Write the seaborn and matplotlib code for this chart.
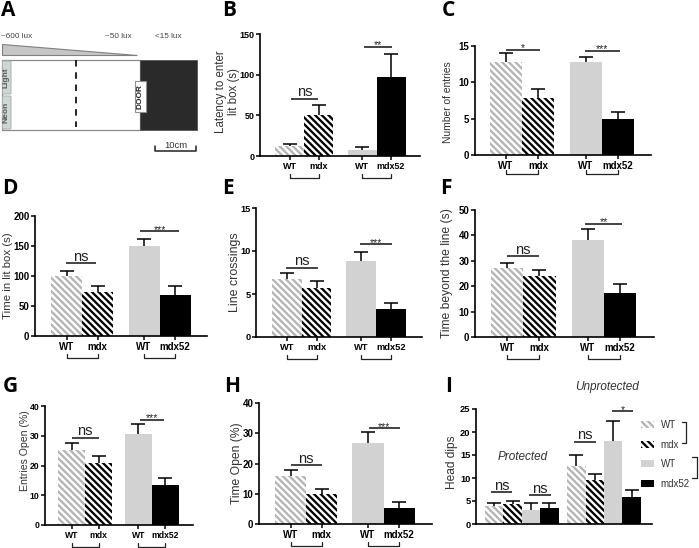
import numpy as np
import pandas as pd
import matplotlib
matplotlib.use("Agg")
import matplotlib.pyplot as plt
import seaborn as sns
from matplotlib.patches import Rectangle, Polygon, FancyBboxPatch, Patch

# ---------- data ----------
groups = ["WT", "mdx", "WT ", "mdx52"]
tick_labels = ["WT", "mdx", "WT", "mdx52"]

b_values = [12, 50, 7.5, 97]
b_errors = [3, 13, 3, 29]
c_values = [12.8, 7.9, 12.8, 4.9]
c_errors = [1.2, 1.2, 0.7, 0.95]
d_values = [100, 73, 150, 69]
d_errors = [8, 10, 11, 14]
e_values = [6.78, 5.7, 8.88, 3.3]
e_errors = [0.62, 0.77, 0.96, 0.65]
f_values = [27, 24, 38.2, 17.5]
f_errors = [2, 2.2, 4.3, 3.5]
g_values = [25.3, 21, 30.5, 13.3]
g_errors = [2.4, 2.2, 3.3, 2.5]
h_values = [16, 10, 26.8, 5.3]
h_errors = [2, 1.5, 3.5, 2]
i_groups = ["WT", "mdx", "WT ", "mdx52", "WT", "mdx", "WT ", "mdx52"]
i_values = [3.9, 4.4, 3.1, 3.5, 12.6, 9.5, 18, 5.8]
i_errors = [0.7, 0.7, 1.4, 1.0, 2.5, 1.4, 4.4, 1.7]

W, H = 699, 548
sns.set_theme(style="ticks")
plt.rcParams["font.family"] = ["Liberation Sans", "DejaVu Sans"]
plt.rcParams["hatch.linewidth"] = 1.65
HATCH = "\\" * 5
TXT = "#333333"

palette = {"WT": "white", "mdx": "white", "WT ": "#d2d2d2", "mdx52": "black"}
hatch_color = {"WT": "#b4b4b4", "mdx": "black"}

fig = plt.figure(figsize=(W / 100, H / 100), dpi=100, facecolor="white")


def fx(px):
    return px / W


def fy(py):
    return 1 - py / H


def bar_panel(rect, bar_left, bar_w, gap, ymax, yticks, values, errors, bar_groups, ylabel,
              ylab_xy, ylab_size, tick_size, sig, xlabels=True, br=(18, 22), sep_after=2):
    l, t, r, b = rect
    ax = fig.add_axes([fx(l), fy(b), (r - l) / W, (b - t) / H])
    n = len(values)
    pos = np.array([i + (gap if i >= sep_after else 0) for i in range(n)], dtype=float)
    df = pd.DataFrame({"pos": pos, "value": values, "group": bar_groups})
    sns.barplot(data=df, x="pos", y="value", hue="group", hue_order=groups, palette=palette,
                dodge=False, native_scale=True, width=1.0, saturation=1, linewidth=0,
                errorbar=None, legend=False, ax=ax)
    for cont, g in zip(ax.containers, groups):
        if g in hatch_color:
            for p in cont:
                p.set_hatch(HATCH)
                p.set_edgecolor(hatch_color[g])
                p.set_linewidth(0)
    tops = np.asarray(values) + np.asarray(errors)
    ax.errorbar(pos, values, yerr=[np.zeros(n), errors], fmt="none", ecolor="black",
                elinewidth=1.1, capsize=0, zorder=5)
    ax.plot(pos, tops, ls="none", marker="_", ms=9.6, mew=1.1, color="black", clip_on=False, zorder=5)
    x0 = -0.5 - (bar_left - l) / bar_w
    ax.set_xlim(x0, x0 + (r - l) / bar_w)
    ax.set_ylim(0, ymax)
    ax.set_yticks(yticks)
    ax.set_xlabel("")
    ax.set_ylabel(ylabel, fontsize=ylab_size, color=TXT, va="center", linespacing=1.05)
    ax.yaxis.set_label_coords(fx(ylab_xy[0]), fy(ylab_xy[1]), transform=fig.transFigure)
    for s in ("top", "right"):
        ax.spines[s].set_visible(False)
    for s in ("left", "bottom"):
        ax.spines[s].set_linewidth(1.2)
        ax.spines[s].set_color("black")
    ax.tick_params(axis="y", length=3, width=1.1, pad=1, color="black")
    for lab in ax.get_yticklabels():
        lab.set_fontweight("bold")
        lab.set_fontsize(tick_size)
        lab.set_color("black")
    if xlabels:
        ax.set_xticks(pos)
        ax.set_xticklabels(tick_labels, fontweight="bold", fontsize=tick_size, color="black")
        ax.tick_params(axis="x", length=3, width=1.1, pad=1.5, color="black")
        tr = ax.get_xaxis_transform()
        h = b - t
        for a, c in ((pos[0], pos[1]), (pos[2], pos[3])):
            ax.plot([a, a, c, c], [-br[0] / h, -br[1] / h, -br[1] / h, -br[0] / h], transform=tr,
                    clip_on=False, color="#222222", lw=0.9)
    else:
        ax.set_xticks([])
    # significance bars, given in bar units
    for label, a, c, y in sig:
        ax.plot([a, c], [y, y], color="#111111", lw=1.1, clip_on=False, solid_capstyle="butt")
        if label == "ns":
            ax.annotate(label, ((a + c) / 2, y), xytext=(0, -0.5), textcoords="offset points", ha="center",
                        va="bottom", fontsize=10.5, color="#222222")
        else:
            ax.annotate(label, ((a + c) / 2, y), xytext=(0, -2.5), textcoords="offset points", ha="center",
                        va="bottom", fontsize=7.5, color="#222222")
    return ax


bar_panel((260, 34, 420, 156), 275, 29, 0.5, 150, [0, 50, 100, 150], b_values, b_errors, groups,
          "Latency to enter\nlit box (s)", (227.5, 92), 8.3, 6.5,
          [("ns", 0.05, 0.98, 70.5), ("**", 2.58, 3.55, 134)])
bar_panel((475, 46, 651, 155), 490, 32, 0.5, 15, [0, 5, 10, 15], c_values, c_errors, groups,
          "Number of entries", (448, 102), 7.4, 7,
          [("*", 0.0, 1.06, 14.5), ("***", 2.48, 3.55, 14.35)], br=(15, 19))
bar_panel((35, 216, 207, 336), 51, 31, 0.5, 200, [0, 50, 100, 150, 200], d_values, d_errors, groups,
          "Time in lit box (s)", (8, 276), 8.2, 7,
          [("ns", -0.02, 0.95, 121.5), ("***", 2.37, 3.63, 174.6)])
bar_panel((256, 208, 422, 337), 272, 29.7, 0.5, 15, [0, 5, 10, 15], e_values, e_errors, groups,
          "Line crossings", (235, 272), 8.9, 6.7,
          [("ns", -0.03, 1.05, 8.06), ("***", 2.47, 3.55, 10.8)])
bar_panel((475, 210, 654, 337), 491, 32.3, 0.5, 50, [0, 10, 20, 30, 40, 50], f_values, f_errors, groups,
          "Time beyond the line (s)", (447, 273), 8.7, 7,
          [("ns", -0.0, 0.98, 31.9), ("**", 2.42, 3.55, 44.6)])
bar_panel((45, 406, 193, 525), 58, 27, 0.48, 40, [0, 10, 20, 30, 40], g_values, g_errors, groups,
          "Entries Open (%)", (25, 451), 7.6, 6.2,
          [("ns", -0.0, 1.0, 29.4), ("***", 2.52, 3.41, 35.4)])
bar_panel((259, 403, 432, 524), 275, 31.2, 0.48, 40, [0, 10, 20, 30, 40], h_values, h_errors, groups,
          "Time Open (%)", (237, 463), 8.7, 7,
          [("ns", 0.0, 1.0, 19.5), ("***", 2.5, 3.5, 31.6)])
ax_i = bar_panel((476, 409, 652, 524), 485, 18.4, 0.47, 25, [0, 5, 10, 15, 20, 25], i_values, i_errors, i_groups,
                 "Head dips", (452, 462), 8.6, 6.7,
                 [("ns", -0.17, 0.97, 6.85), ("ns", 1.9, 3.1, 6.2), ("ns", 4.33, 5.53, 17.9), ("*", 6.4, 7.55, 24.5)],
                 xlabels=False, sep_after=4)

fig.text(fx(523), fy(457), "Protected", style="italic", fontsize=8.5, color=TXT, ha="center", va="center")
fig.text(fx(607), fy(387), "Unprotected", style="italic", fontsize=8.5, color=TXT, ha="center", va="center")

handles = [
    Patch(facecolor="white", edgecolor=hatch_color["WT"], hatch=HATCH, linewidth=0, label="WT"),
    Patch(facecolor="white", edgecolor="black", hatch=HATCH, linewidth=0, label="mdx"),
    Patch(facecolor=palette["WT "], edgecolor="none", label="WT"),
    Patch(facecolor="black", edgecolor="none", label="mdx52"),
]
ax_i.legend(handles=handles, loc="upper left", bbox_to_anchor=(fx(641), fy(420)), bbox_transform=fig.transFigure,
            frameon=False, fontsize=7, labelcolor=TXT, handlelength=1.34, handleheight=0.75,
            handletextpad=0.7, borderpad=0, borderaxespad=0, labelspacing=0.98)

# legend brackets and panel A share a full-figure pixel overlay
ov = fig.add_axes([0, 0, 1, 1], facecolor="none")
ov.set_xlim(0, W)
ov.set_ylim(H, 0)
ov.axis("off")
ov.plot([682, 686, 686, 682], [422, 422, 443, 443], color="#222222", lw=0.9)
ov.plot([692, 697, 697, 692], [457, 457, 478, 478], color="#222222", lw=0.9)

# Panel A schematic
ov.add_patch(Polygon([(2, 44), (2, 55), (137, 55)], closed=True, facecolor="#c6c6c6", edgecolor="#808080", lw=0.8))
ov.add_patch(Rectangle((2, 60), 138, 70, facecolor="white", edgecolor="#8a8a8a", lw=0.9))
ov.add_patch(Rectangle((140, 60), 57, 70, facecolor="#2a2a2a", edgecolor="#555555", lw=0.6))
ov.plot([75.5, 75.5], [60, 127], color="#111111", lw=1.3, dashes=(3.6, 3.2))
for yy, hh, name in ((61, 33, "Light"), (96, 33, "Neon")):
    ov.add_patch(FancyBboxPatch((3.5, yy + 1), 6.5, hh - 2, boxstyle="round,pad=1", facecolor="#cfd6d6",
                                edgecolor="#a8b0b0", lw=0.7))
    ov.text(6.5, yy + hh / 2, name, rotation=90, ha="center", va="center", fontsize=6, fontweight="bold", color="#5a5a5a")
ov.add_patch(Rectangle((135, 81), 11, 31, facecolor="white", edgecolor="#909090", lw=0.8))
ov.text(140.5, 96.5, "DOOR", rotation=90, ha="center", va="center", fontsize=6, fontweight="bold", color="#222222")
for x_, s_ in ((16.5, "~600 lux"), (118, "~50 lux"), (168.5, "<15 lux")):
    ov.text(x_, 37, s_, ha="center", va="center", fontsize=5.9, color="#444444")
ov.plot([155, 155, 196, 196], [146, 151, 151, 146], color="#222222", lw=1.1)
ov.text(175.5, 145.5, "10cm", ha="center", va="center", fontsize=6.8, color="#333333")

# panel letters
for s_, x_, y_ in (("A", 1, 11), ("B", 222, 11), ("C", 442, 11), ("D", 2, 188), ("E", 222, 188),
                   ("F", 440, 188), ("G", 3, 387), ("H", 224, 387), ("I", 445, 387)):
    ov.text(x_, y_, s_, ha="left", va="center", fontsize=15, fontweight="bold", color="black", fontfamily="Open Sans")

fig.savefig("out.png", dpi=100)
